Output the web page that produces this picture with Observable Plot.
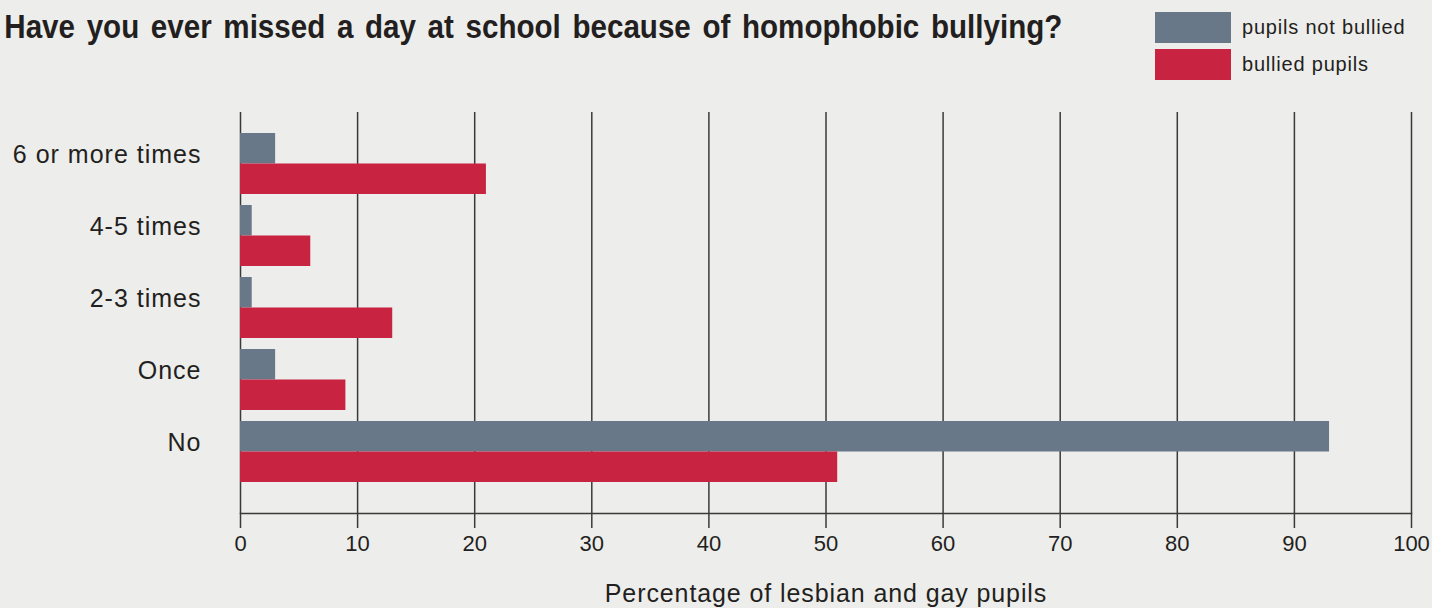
<!DOCTYPE html>
<html>
<head>
<meta charset="utf-8">
<script src="https://cdn.jsdelivr.net/npm/d3@7"></script>
<script src="https://cdn.jsdelivr.net/npm/@observablehq/plot@0.6"></script>
<style>
  html, body { margin: 0; padding: 0; background: #ededeb; overflow: hidden; width: 1432px; height: 608px; }
  #header { position: relative; height: 100px; width: 1432px; }
  #title {
    position: absolute; right: 370px; top: 6px; white-space: nowrap;
    font-family: "Liberation Sans", Arial, sans-serif;
    font-weight: bold; font-size: 34px; line-height: 40px;
    color: #231f20; word-spacing: 4px; transform-origin: right center;
  }
  #legend { position: absolute; left: 1155px; top: 12px; font-family: "Liberation Sans", Arial, sans-serif; font-size: 20px; letter-spacing: 0.8px; color: #231f20; }
  .item { display: flex; align-items: center; height: 31px; margin-bottom: 6px; }
  .sw { width: 76px; height: 31px; margin-right: 11px; }
  #chart svg { display: block; }
  #chart g[aria-label="y-axis tick label"] text { letter-spacing: 1px; }
  #chart g[aria-label="x-axis label"], #chart g[aria-label="x-axis label"] text { font-size: 25px; letter-spacing: 0.9px; }
</style>
</head>
<body>
<div id="header">
  <div id="title"></div>
  <div id="legend"></div>
</div>
<div id="chart"></div>
<script>
const titleText = "Have you ever missed a day at school because of homophobic bullying?";
const categories = ["6 or more times", "4-5 times", "2-3 times", "Once", "No"];
const notBullied = [3, 1, 1, 3, 93];
const bullied = [21, 6, 13, 9, 51];
const seriesNames = ["pupils not bullied", "bullied pupils"];
const seriesColors = ["#687888", "#c82341"];
const xTicks = [0, 10, 20, 30, 40, 50, 60, 70, 80, 90, 100];
const xLabel = "Percentage of lesbian and gay pupils";

const titleEl = document.getElementById("title");
titleEl.textContent = titleText;
const tw = titleEl.getBoundingClientRect().width;
titleEl.style.transform = `scaleX(${Math.min(1, 1058 / tw)})`;

const legend = document.getElementById("legend");
seriesNames.forEach((name, i) => {
  const item = document.createElement("div");
  item.className = "item";
  const sw = document.createElement("div");
  sw.className = "sw";
  sw.style.background = seriesColors[i];
  const label = document.createElement("span");
  label.textContent = name;
  item.appendChild(sw);
  item.appendChild(label);
  legend.appendChild(item);
});

const rows = categories.map((c, i) => ({category: c, notBullied: notBullied[i], bullied: bullied[i]}));

const chart = Plot.plot({
  width: 1432,
  height: 508,
  marginLeft: 240,
  marginRight: 21,
  marginTop: 12,
  marginBottom: 95,
  style: {background: "transparent", fontFamily: "'Liberation Sans', Arial, sans-serif", color: "#231f20", overflow: "visible"},
  x: {domain: [0, 100]},
  y: {domain: categories, paddingInner: 0.159, paddingOuter: 0.359, align: 0.4},
  marks: [
    Plot.ruleX(xTicks, {stroke: "#3a3a3a", strokeWidth: 1.5}),
    Plot.barX(rows, {x: "notBullied", y: "category", fill: seriesColors[0], insetBottom: 30.5}),
    Plot.barX(rows, {x: "bullied", y: "category", fill: seriesColors[1], insetTop: 30.5}),
    Plot.frame({anchor: "bottom", stroke: "#3a3a3a", strokeWidth: 1.5}),
    Plot.axisX({ticks: xTicks, tickSize: 15, tickPadding: 7, fontSize: 22, stroke: "#3a3a3a", strokeWidth: 1.5,
      label: null}),
    Plot.axisX({ticks: [], tickSize: 0, label: xLabel, labelAnchor: "center", labelArrow: "none", labelOffset: 88, dx: -3}),
    Plot.axisY({tickSize: 0, tickPadding: 39, fontSize: 25, dy: -9.5, label: null})
  ]
});
document.getElementById("chart").appendChild(chart);
</script>
</body>
</html>
